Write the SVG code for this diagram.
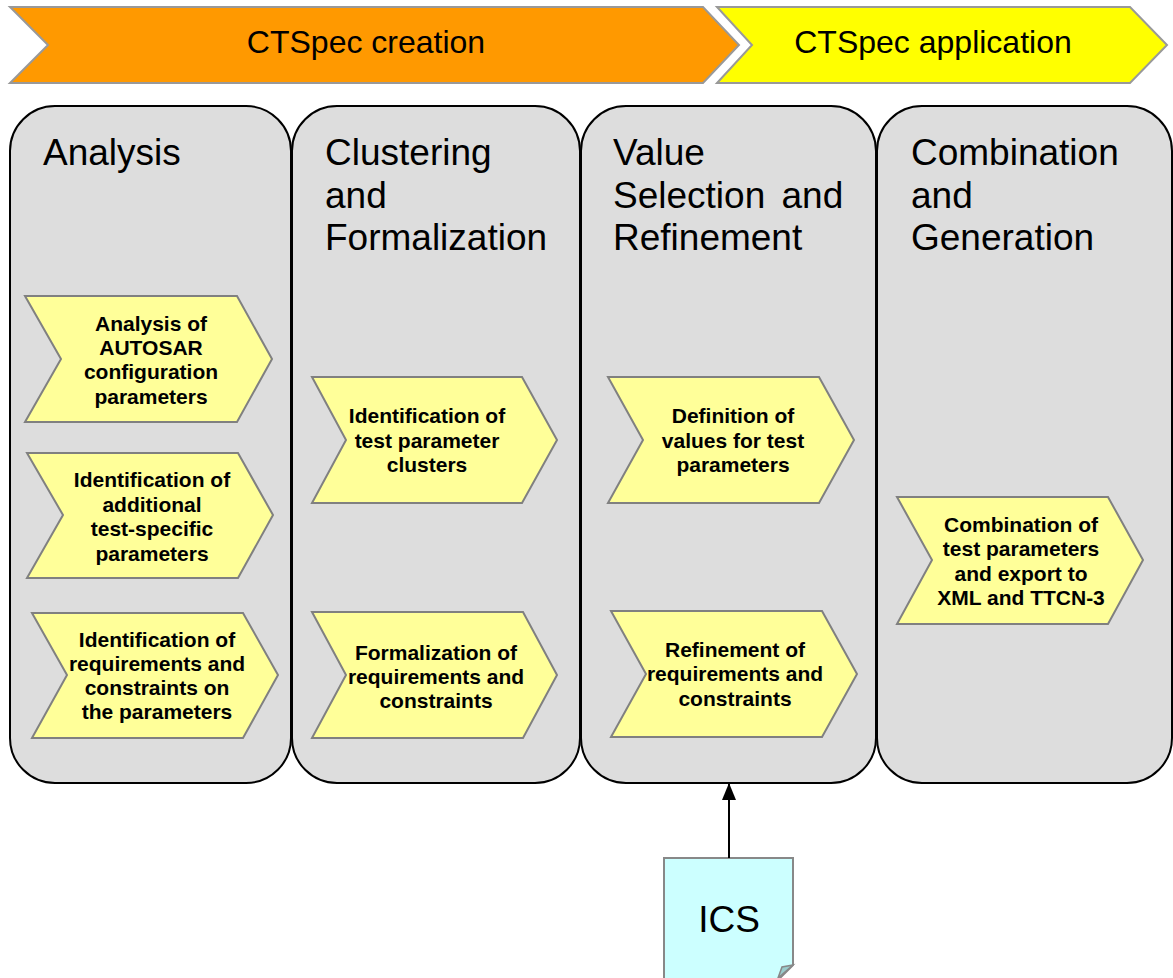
<svg xmlns="http://www.w3.org/2000/svg" width="1173" height="978" viewBox="0 0 1173 978">
<style>
.banner{stroke:#999999;stroke-width:2}
.bt{font-family:"Liberation Sans",Arial,sans-serif;font-size:32px;fill:#000;text-anchor:middle}
.col{fill:#DDDDDD;stroke:#000;stroke-width:2}
.ct{font-family:"Liberation Sans",Arial,sans-serif;font-size:37px;fill:#000}
.chev{fill:#FFFF99;stroke:#808080;stroke-width:2}
.st{font-family:"Liberation Sans",Arial,sans-serif;font-size:21px;font-weight:bold;fill:#000;text-anchor:middle}
.note{fill:#CCFFFF;stroke:#888888;stroke-width:2}
.fold{fill:#99CCCC;stroke:#888888;stroke-width:1.5}
</style>
<defs>
<marker id="arr" markerWidth="17" markerHeight="14" refX="16" refY="7" orient="auto" markerUnits="userSpaceOnUse"><path d="M0,0 L17,7 L0,14 Z" fill="#000"/></marker>
</defs>
<rect width="1173" height="978" fill="#FFFFFF"/>
<g id="banner-creation">
<polygon class="banner" fill="#FF9900" points="10,7 703,7 739,45 703,83 10,83 48,45"/>
<text class="bt" x="366" y="53">CTSpec creation</text>
</g>
<g id="banner-application">
<polygon class="banner" fill="#FFFF00" points="717,7 1130,7 1167,45 1130,83 717,83 752,45"/>
<text class="bt" x="933" y="53">CTSpec application</text>
</g>
<g id="col-analysis">
<rect class="col" x="10" y="106" width="281" height="677" rx="45" ry="45"/>
<text class="ct" x="43" y="165">Analysis</text>
</g>
<g id="col-clustering">
<rect class="col" x="292" y="106" width="288" height="677" rx="45" ry="45"/>
<text class="ct" x="325" y="165">Clustering</text>
<text class="ct" x="325" y="208">and</text>
<text class="ct" x="325" y="250">Formalization</text>
</g>
<g id="col-value">
<rect class="col" x="581" y="106" width="295" height="677" rx="45" ry="45"/>
<text class="ct" x="613" y="165">Value</text>
<text class="ct" x="613" y="208" word-spacing="6">Selection and</text>
<text class="ct" x="613" y="250">Refinement</text>
</g>
<g id="col-combination">
<rect class="col" x="877" y="106" width="295" height="677" rx="45" ry="45"/>
<text class="ct" x="911" y="165">Combination</text>
<text class="ct" x="911" y="208">and</text>
<text class="ct" x="911" y="250">Generation</text>
</g>
<g id="step-analysis-autosar">
<polygon class="chev" points="25,296 237,296 272,359 237,422 25,422 61,359"/>
<text class="st" x="151" y="331">Analysis of</text>
<text class="st" x="151" y="355">AUTOSAR</text>
<text class="st" x="151" y="379">configuration</text>
<text class="st" x="151" y="404">parameters</text>
</g>
<g id="step-additional">
<polygon class="chev" points="27,453 238,453 273,515 238,578 27,578 63,515"/>
<text class="st" x="152" y="487">Identification of</text>
<text class="st" x="152" y="512">additional</text>
<text class="st" x="152" y="536">test-specific</text>
<text class="st" x="152" y="561">parameters</text>
</g>
<g id="step-requirements">
<polygon class="chev" points="32,613 243,613 278,675 243,738 32,738 67,675"/>
<text class="st" x="157" y="647">Identification of</text>
<text class="st" x="157" y="671">requirements and</text>
<text class="st" x="157" y="695">constraints on</text>
<text class="st" x="157" y="719">the parameters</text>
</g>
<g id="step-clusters">
<polygon class="chev" points="312,377 522,377 557,440 522,503 312,503 346,440"/>
<text class="st" x="427" y="423">Identification of</text>
<text class="st" x="427" y="448">test parameter</text>
<text class="st" x="427" y="472">clusters</text>
</g>
<g id="step-formalization">
<polygon class="chev" points="312,612 523,612 557,675 523,738 312,738 346,675"/>
<text class="st" x="436" y="660">Formalization of</text>
<text class="st" x="436" y="684">requirements and</text>
<text class="st" x="436" y="708">constraints</text>
</g>
<g id="step-values">
<polygon class="chev" points="608,377 819,377 854,440 819,503 608,503 643,440"/>
<text class="st" x="733" y="423">Definition of</text>
<text class="st" x="733" y="448">values for test</text>
<text class="st" x="733" y="472">parameters</text>
</g>
<g id="step-refinement">
<polygon class="chev" points="611,611 822,611 857,674 822,737 611,737 646,674"/>
<text class="st" x="735" y="657">Refinement of</text>
<text class="st" x="735" y="681">requirements and</text>
<text class="st" x="735" y="706">constraints</text>
</g>
<g id="step-combination">
<polygon class="chev" points="897,497 1108,497 1143,560 1108,624 897,624 932,560"/>
<text class="st" x="1021" y="532">Combination of</text>
<text class="st" x="1021" y="556">test parameters</text>
<text class="st" x="1021" y="581">and export to</text>
<text class="st" x="1021" y="605">XML and TTCN-3</text>
</g>
<g id="ics">
<polygon class="note" points="664,858 793,858 793,965 778,980 664,980"/>
<polygon class="fold" points="793,965 778,978 782,967"/>
<text class="ct" x="729" y="932" text-anchor="middle">ICS</text>
</g>
<g id="connectors">
<line x1="729" y1="858" x2="729" y2="784" stroke="#000" stroke-width="2" marker-end="url(#arr)"/>
</g>
</svg>
